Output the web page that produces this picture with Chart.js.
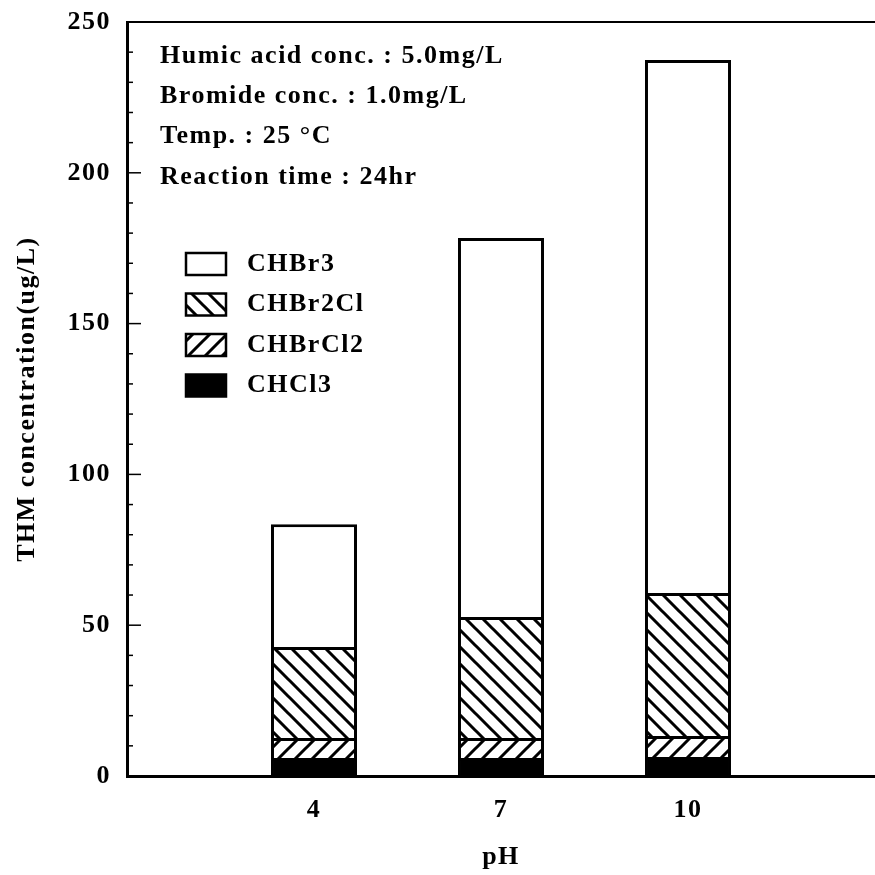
<!DOCTYPE html>
<html>
<head>
<meta charset="utf-8">
<script src="https://cdn.jsdelivr.net/npm/chart.js@4.4.1/dist/chart.umd.min.js"></script>
<style>
html, body { margin: 0; padding: 0; background: #fff; }
#wrap { width: 875px; height: 875px; }
</style>
</head>
<body>
<div id="wrap"><canvas id="thmChart"></canvas></div>
<script>
// pH categories (blank slots at both ends so the bars sit on 4, 7, 10)
const phLabels = ['', '4', '7', '10', ''];
// THM species, stacked bottom to top (ug/L)
const chcl3   = [null, 6.0, 6.0, 6.3, null];
const chbrcl2 = [null, 6.6, 6.6, 7.0, null];
const chbr2cl = [null, 30.2, 40.1, 47.4, null];
const chbr3   = [null, 40.7, 125.7, 176.7, null];
const seriesNames = ['CHCl3', 'CHBrCl2', 'CHBr2Cl', 'CHBr3'];
const notes = ['Humic acid conc. : 5.0mg/L', 'Bromide conc. : 1.0mg/L', 'Temp. : 25 \u00B0C', 'Reaction time : 24hr'];

const FONT = '"Liberation Serif", "Times New Roman", serif';
const TXT = { family: FONT, size: 26, weight: 'bold' };

function hatch(dir) {
    const s = 17;
    const c = document.createElement('canvas');
    c.width = s; c.height = s;
    const g = c.getContext('2d');
    g.fillStyle = '#fff';
    g.fillRect(0, 0, s, s);
    g.strokeStyle = '#000';
    g.lineWidth = 3;
    g.beginPath();
    if (dir === 'back') {
        g.moveTo(-2, -2); g.lineTo(s + 2, s + 2);
        g.moveTo(-2, s - 2); g.lineTo(2, s + 2);
        g.moveTo(s - 2, -2); g.lineTo(s + 2, 2);
    } else {
        g.moveTo(-2, s + 2); g.lineTo(s + 2, -2);
        g.moveTo(-2, 2); g.lineTo(2, -2);
        g.moveTo(s - 2, s + 2); g.lineTo(s + 2, s - 2);
    }
    g.stroke();
    return g.createPattern(c, 'repeat');
}

const fills = ['#000', hatch('fwd'), hatch('back'), '#fff'];
const values = [chcl3, chbrcl2, chbr2cl, chbr3];

const data = {
    labels: phLabels,
    datasets: values.map((v, i) => ({
        label: seriesNames[i],
        data: v,
        backgroundColor: fills[i],
        borderColor: '#000',
        borderWidth: { top: 3, left: 3, right: 3, bottom: 0 },
        borderSkipped: false,
        barPercentage: 1,
        categoryPercentage: 0.46
    }))
};

// inward ticks, top frame line, notes and legend
const extras = {
    id: 'extras',
    beforeDraw(chart) {
        chart.ctx.letterSpacing = '1.5px';
    },
    afterDraw(chart) {
        const ctx = chart.ctx;
        const a = chart.chartArea;
        const y = chart.scales.y;
        ctx.save();
        ctx.strokeStyle = '#000';
        ctx.lineWidth = 1.5;
        for (let v = 10; v < 250; v += 10) {
            const py = y.getPixelForValue(v);
            const len = v % 50 === 0 ? 14 : 6;
            ctx.beginPath();
            ctx.moveTo(a.left, py);
            ctx.lineTo(a.left + len, py);
            ctx.stroke();
        }
        ctx.lineWidth = 2;
        ctx.beginPath();
        ctx.moveTo(a.left, a.top);
        ctx.lineTo(a.right, a.top);
        ctx.stroke();

        ctx.fillStyle = '#000';
        ctx.font = 'bold 26px ' + FONT;
        ctx.letterSpacing = '1.5px';
        ctx.textBaseline = 'middle';
        notes.forEach((t, i) => {
            ctx.fillText(t, a.left + 33, a.top + 34 + i * 40.3);
        });

        // legend, top row = last dataset
        const ds = chart.data.datasets.slice().reverse();
        ds.forEach((d, i) => {
            const cy = a.top + 242 + i * 40.5;
            ctx.fillStyle = d.backgroundColor;
            ctx.fillRect(a.left + 59, cy - 11, 40, 22);
            ctx.lineWidth = 2.5;
            ctx.strokeRect(a.left + 59, cy - 11, 40, 22);
            ctx.fillStyle = '#000';
            ctx.fillText(d.label, a.left + 120, cy);
        });
        ctx.restore();
    }
};

function noPad(scale) {
    scale.paddingTop = 0;
    scale.paddingBottom = 0;
    scale.paddingLeft = 0;
    scale.paddingRight = 0;
}

const config = {
    type: 'bar',
    data: data,
    options: {
        responsive: true,
        maintainAspectRatio: false,
        animation: false,
        layout: { padding: { top: 22, right: 0, left: 0, bottom: 0 } },
        plugins: {
            legend: { display: false },
            tooltip: { enabled: false }
        },
        scales: {
            x: {
                stacked: true,
                offset: false,
                grid: { display: false, drawTicks: false },
                border: { display: true, color: '#000', width: 3 },
                ticks: { color: '#000', font: TXT, padding: 19, maxRotation: 0 },
                title: { display: true, text: 'pH', color: '#000', font: TXT, padding: { top: 0, bottom: 2 } },
                afterFit(scale) { scale.height = 99; noPad(scale); }
            },
            y: {
                stacked: true,
                min: 0,
                max: 250,
                grid: { display: false, drawTicks: false },
                border: { display: true, color: '#000', width: 3 },
                ticks: {
                    stepSize: 10,
                    autoSkip: false,
                    color: '#000',
                    font: TXT,
                    padding: 16,
                    callback: v => (v % 50 === 0 ? v : '')
                },
                title: { display: true, text: 'THM concentration(ug/L)', color: '#000', font: TXT, padding: { top: 12, bottom: 0 } },
                afterFit(scale) { scale.width = 127; noPad(scale); }
            }
        }
    },
    plugins: [extras]
};

const ctx = document.getElementById('thmChart').getContext('2d');
new Chart(ctx, config);
</script>
</body>
</html>
